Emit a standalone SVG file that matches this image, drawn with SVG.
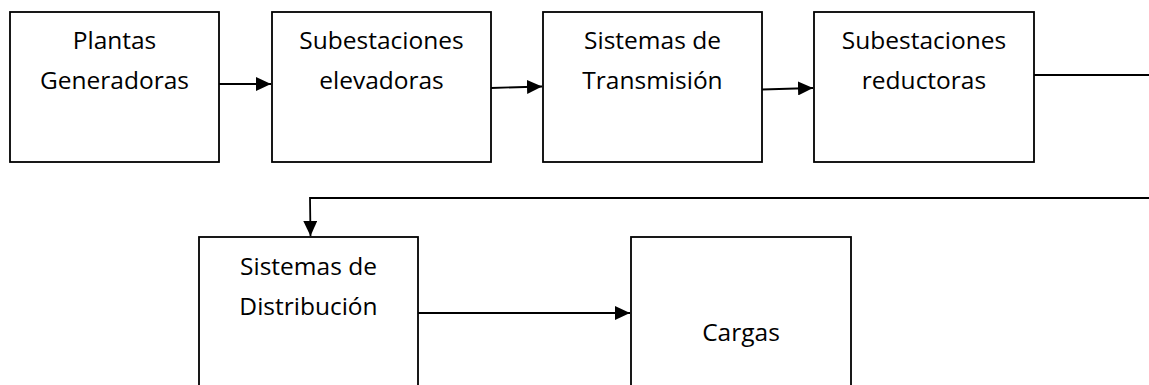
<svg xmlns="http://www.w3.org/2000/svg" width="1149" height="385" viewBox="0 0 1149 385">
<style>
.box{fill:#fff;stroke:#000;stroke-width:1.8}
.lbl{font-family:"Open Sans","Liberation Sans",sans-serif;font-size:24.5px;fill:#000;text-anchor:middle}
.con{fill:none;stroke:#000;stroke-width:1.8}
</style>
<defs>
<marker id="arr" markerWidth="15" markerHeight="14" refX="15" refY="7" orient="auto" markerUnits="userSpaceOnUse">
<path d="M0,0 L15,7 L0,14 Z" fill="#000"/>
</marker>
</defs>
<rect width="1149" height="385" fill="#fff"/>
<g id="n1"><rect class="box" x="10" y="12" width="209" height="150"/><text class="lbl" x="114.5" y="49">Plantas</text><text class="lbl" x="114.5" y="89">Generadoras</text></g>
<g id="n2"><rect class="box" x="272" y="12" width="219" height="150"/><text class="lbl" x="381.5" y="49">Subestaciones</text><text class="lbl" x="381.5" y="89">elevadoras</text></g>
<g id="n3"><rect class="box" x="543" y="12" width="219" height="150"/><text class="lbl" x="652.5" y="49">Sistemas de</text><text class="lbl" x="652.5" y="89">Transmisión</text></g>
<g id="n4"><rect class="box" x="814" y="12" width="220" height="150"/><text class="lbl" x="924" y="49">Subestaciones</text><text class="lbl" x="924" y="89">reductoras</text></g>
<g id="n5"><rect class="box" x="199" y="237" width="219" height="160"/><text class="lbl" x="308.5" y="275">Sistemas de</text><text class="lbl" x="308.5" y="315">Distribución</text></g>
<g id="n6"><rect class="box" x="631" y="237" width="220" height="160"/><text class="lbl" x="741" y="341">Cargas</text></g>
<g id="connectors">
<line class="con" x1="219" y1="84" x2="271" y2="84" marker-end="url(#arr)"/>
<line class="con" x1="491" y1="88" x2="542" y2="86.5" marker-end="url(#arr)"/>
<line class="con" x1="762" y1="89.5" x2="813" y2="88" marker-end="url(#arr)"/>
<line class="con" x1="1034" y1="75" x2="1149" y2="75"/>
<polyline class="con" points="1149,198 310,198 310.5,236" marker-end="url(#arr)"/>
<line class="con" x1="418" y1="313" x2="630" y2="313" marker-end="url(#arr)"/>
</g>
</svg>
